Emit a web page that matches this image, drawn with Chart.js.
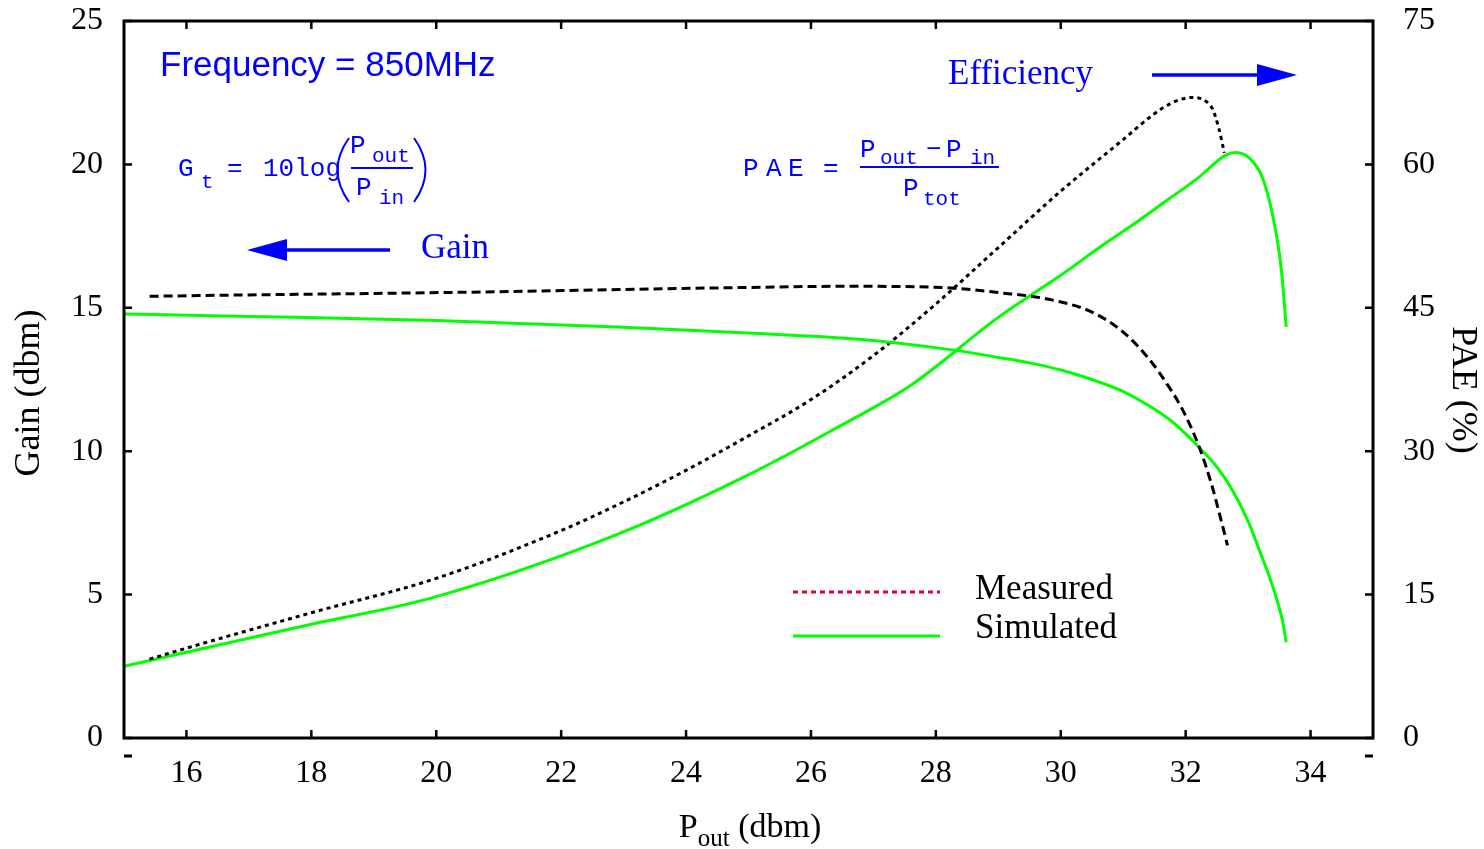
<!DOCTYPE html>
<html>
<head>
<meta charset="utf-8">
<script src="https://cdn.jsdelivr.net/npm/chart.js@4.4.1/dist/chart.umd.min.js"></script>
<style>
html,body{margin:0;padding:0;background:#fff;}
#wrap{width:1484px;height:849px;}
</style>
</head>
<body>
<div id="wrap"><canvas id="c" width="1484" height="849"></canvas></div>
<script>
// ---- data ----
const measGainX = [15.41, 17, 19, 21, 23, 25, 26.5, 27.5, 28.3, 29, 29.8, 30.5, 31.0, 31.4, 31.7, 31.95, 32.22, 32.41, 32.54, 32.67];
const measGainY = [15.40, 15.45, 15.50, 15.56, 15.64, 15.71, 15.75, 15.74, 15.68, 15.53, 15.30, 14.85, 14.15, 13.25, 12.35, 11.45, 10.13, 8.88, 7.83, 6.72];

const simGainX = [15.0, 17, 20, 22.9, 25, 26.9, 28.2, 29.0, 29.5, 30.0, 30.5, 31.0, 31.4, 31.8, 32.2, 32.5, 32.75, 33.0, 33.18, 33.32, 33.45, 33.55, 33.61];
const simGainY = [14.78, 14.70, 14.56, 14.33, 14.12, 13.88, 13.55, 13.27, 13.08, 12.83, 12.50, 12.08, 11.60, 11.00, 10.17, 9.45, 8.64, 7.55, 6.55, 5.75, 4.90, 4.10, 3.34];

const measPaeX = [15.41, 16, 18, 20, 22, 23, 24, 25, 26, 27, 28, 29, 30, 31, 31.5, 31.8, 32.1, 32.3, 32.43, 32.53, 32.62];
const measPaeY = [8.25, 9.4, 13.1, 16.7, 21.7, 24.7, 28.0, 31.6, 35.4, 40.0, 45.4, 51.3, 57.2, 62.6, 65.3, 66.5, 67.0, 66.7, 65.8, 63.8, 61.2];

const simPaeX = [15.0, 18, 19.9, 22.9, 24.9, 26.4, 27.6, 29.0, 30.0, 30.62, 31.2, 31.69, 32.22, 32.5, 32.65, 32.8, 33.03, 33.23, 33.39, 33.5, 33.55, 33.61];
const simPaeY = [7.5, 11.9, 14.6, 21.3, 27.2, 32.4, 36.9, 44.0, 48.4, 51.3, 53.9, 56.2, 58.7, 60.3, 61.0, 61.25, 60.6, 58.6, 54.8, 50.7, 47.8, 43.0];

const xTicks = [16, 18, 20, 22, 24, 26, 28, 30, 32, 34];
const gainTicks = [0, 5, 10, 15, 20, 25];
const paeTicks = [0, 15, 30, 45, 60, 75];

const legendLabels = ['Measured', 'Simulated'];

function pts(xs, ys){ return xs.map((x,i)=>({x:x, y:ys[i]})); }

const SERIF = '"Liberation Serif", "Times New Roman", serif';
const SANS = '"Liberation Sans", Arial, sans-serif';
const MONO = '"Liberation Mono", "Courier New", monospace';
const BLUE = '#0000ff';

function noPad(s){ s.paddingTop = 0; s.paddingBottom = 0; s.paddingLeft = 0; s.paddingRight = 0; }

const decor = {
  id: 'decor',
  afterDraw(chart){
    const ctx = chart.ctx;
    const a = chart.chartArea;
    const sx = chart.scales.x, yl = chart.scales.y, yr = chart.scales.y2;
    ctx.save();
    // frame
    ctx.strokeStyle = '#000'; ctx.lineWidth = 3;
    ctx.strokeRect(a.left, a.top, a.right - a.left, a.bottom - a.top);
    ctx.lineWidth = 2.5;
    // inward tick marks
    ctx.beginPath();
    sx.ticks.forEach(t => {
      const p = sx.getPixelForValue(t.value);
      ctx.moveTo(p, a.bottom); ctx.lineTo(p, a.bottom - 8);
      ctx.moveTo(p, a.top); ctx.lineTo(p, a.top + 8);
    });
    yl.ticks.forEach(t => {
      const p = yl.getPixelForValue(t.value);
      ctx.moveTo(a.left, p); ctx.lineTo(a.left + 8, p);
    });
    yr.ticks.forEach(t => {
      const p = yr.getPixelForValue(t.value);
      ctx.moveTo(a.right, p); ctx.lineTo(a.right - 8, p);
    });
    ctx.stroke();
    // small dashes below frame corners
    ctx.lineWidth = 3;
    ctx.beginPath();
    ctx.moveTo(a.left, a.bottom + 18); ctx.lineTo(a.left + 8, a.bottom + 18);
    ctx.moveTo(a.right - 8, a.bottom + 18); ctx.lineTo(a.right, a.bottom + 18);
    ctx.stroke();

    // axis titles
    ctx.fillStyle = '#000';
    ctx.textBaseline = 'middle';
    ctx.textAlign = 'center';
    ctx.font = '36px ' + SERIF;
    ctx.save(); ctx.translate(30, 393); ctx.rotate(-Math.PI/2); ctx.fillText('Gain (dbm)', 0, 0); ctx.restore();
    ctx.save(); ctx.translate(1462, 390); ctx.rotate(Math.PI/2); ctx.fillText('PAE (%)', 0, 0); ctx.restore();
    // x title with subscript
    ctx.textAlign = 'left'; ctx.textBaseline = 'alphabetic';
    ctx.font = '34px ' + SERIF; const wP = ctx.measureText('P').width;
    ctx.font = '25px ' + SERIF; const wOut = ctx.measureText('out').width;
    ctx.font = '34px ' + SERIF; const wD = ctx.measureText(' (dbm)').width;
    let x0 = 750 - (wP + wOut + wD)/2;
    ctx.font = '34px ' + SERIF; ctx.fillText('P', x0, 837);
    ctx.font = '25px ' + SERIF; ctx.fillText('out', x0 + wP, 846);
    ctx.font = '34px ' + SERIF; ctx.fillText(' (dbm)', x0 + wP + wOut, 837);

    // annotations
    ctx.fillStyle = BLUE; ctx.strokeStyle = BLUE;
    ctx.textBaseline = 'middle';
    ctx.font = '35px ' + SANS; ctx.fillText('Frequency = 850MHz', 160, 66);
    ctx.font = '35px ' + SERIF; ctx.fillText('Efficiency', 948, 75);
    ctx.fillText('Gain', 421, 249);
    // arrows
    ctx.lineWidth = 3.5;
    ctx.beginPath(); ctx.moveTo(1152, 75); ctx.lineTo(1262, 75); ctx.stroke();
    ctx.beginPath(); ctx.moveTo(1297, 75); ctx.lineTo(1257, 64); ctx.lineTo(1257, 86); ctx.closePath(); ctx.fill();
    ctx.beginPath(); ctx.moveTo(390, 250); ctx.lineTo(280, 250); ctx.stroke();
    ctx.beginPath(); ctx.moveTo(247, 250); ctx.lineTo(287, 239); ctx.lineTo(287, 261); ctx.closePath(); ctx.fill();

    // formula Gt
    ctx.textBaseline = 'alphabetic';
    ctx.font = '26px ' + MONO;
    ctx.fillText('G', 178, 176);
    ctx.font = '21px ' + MONO; ctx.fillText('t', 201, 188);
    ctx.font = '26px ' + MONO; ctx.fillText('=', 227, 176);
    ctx.fillText('10log', 263, 176);
    ctx.fillText('P', 350, 153);
    ctx.font = '21px ' + MONO; ctx.fillText('out', 372, 162);
    ctx.font = '26px ' + MONO; ctx.fillText('P', 356, 195);
    ctx.font = '21px ' + MONO; ctx.fillText('in', 379, 204);
    ctx.lineWidth = 2;
    ctx.beginPath(); ctx.moveTo(351, 168); ctx.lineTo(413, 168); ctx.stroke();
    // big parentheses
    ctx.beginPath(); ctx.moveTo(349, 138); ctx.quadraticCurveTo(326, 170, 349, 202); ctx.stroke();
    ctx.beginPath(); ctx.moveTo(414, 138); ctx.quadraticCurveTo(437, 170, 414, 202); ctx.stroke();

    // formula PAE
    ctx.font = '26px ' + MONO;
    ctx.fillText('P', 743, 176); ctx.fillText('A', 766, 176); ctx.fillText('E', 788, 176);
    ctx.fillText('=', 823, 176);
    ctx.fillText('P', 860, 157);
    ctx.font = '21px ' + MONO; ctx.fillText('out', 880, 164);
    ctx.font = '26px ' + MONO; ctx.fillText('\u2212', 926, 157);
    ctx.fillText('P', 946, 157);
    ctx.font = '21px ' + MONO; ctx.fillText('in', 970, 164);
    ctx.font = '26px ' + MONO; ctx.fillText('P', 903, 196);
    ctx.font = '21px ' + MONO; ctx.fillText('tot', 923, 205);
    ctx.beginPath(); ctx.moveTo(860, 167); ctx.lineTo(999, 167); ctx.stroke();

    // legend
    ctx.lineWidth = 3;
    ctx.strokeStyle = '#e0002a'; ctx.setLineDash([5, 4]);
    ctx.beginPath(); ctx.moveTo(793, 592); ctx.lineTo(940, 592); ctx.stroke();
    ctx.setLineDash([]);
    ctx.strokeStyle = '#00ff00';
    ctx.beginPath(); ctx.moveTo(793, 636); ctx.lineTo(940, 636); ctx.stroke();
    ctx.fillStyle = '#000'; ctx.font = '35px ' + SERIF; ctx.textBaseline = 'middle';
    ctx.fillText(legendLabels[0], 975, 590);
    ctx.fillText(legendLabels[1], 975, 629);
    ctx.restore();
  }
};

new Chart(document.getElementById('c'), {
  type: 'line',
  data: {
    datasets: [
      { label: 'Measured gain', data: pts(measGainX, measGainY), yAxisID: 'y', borderColor: '#000', borderWidth: 3, borderDash: [9, 5], pointRadius: 0, fill: false, cubicInterpolationMode: 'monotone' },
      { label: 'Simulated gain', data: pts(simGainX, simGainY), yAxisID: 'y', borderColor: '#00ff00', borderWidth: 3, pointRadius: 0, fill: false, cubicInterpolationMode: 'monotone' },
      { label: 'Measured PAE', data: pts(measPaeX, measPaeY), yAxisID: 'y2', borderColor: '#000', borderWidth: 3, borderDash: [4, 4], pointRadius: 0, fill: false, cubicInterpolationMode: 'monotone' },
      { label: 'Simulated PAE', data: pts(simPaeX, simPaeY), yAxisID: 'y2', borderColor: '#00ff00', borderWidth: 3, pointRadius: 0, fill: false, cubicInterpolationMode: 'monotone' }
    ]
  },
  options: {
    responsive: false,
    animation: false,
    devicePixelRatio: 1,
    layout: { padding: { top: 21, left: 0, right: 0, bottom: 0 } },
    plugins: { legend: { display: false }, tooltip: { enabled: false } },
    scales: {
      x: {
        type: 'linear', min: 15, max: 35,
        afterBuildTicks: s => { s.ticks = xTicks.map(v => ({value: v})); },
        afterFit: s => { s.height = 111; noPad(s); },
        grid: { display: false, drawTicks: false },
        border: { display: false },
        ticks: { color: '#000', font: { family: SERIF, size: 32 }, padding: 16, maxRotation: 0, autoSkip: false }
      },
      y: {
        type: 'linear', position: 'left', min: 0, max: 25,
        afterBuildTicks: s => { s.ticks = gainTicks.map(v => ({value: v})); },
        afterFit: s => { s.width = 124; noPad(s); },
        grid: { display: false, drawTicks: false },
        border: { display: false },
        ticks: { color: '#000', font: { family: SERIF, size: 32 }, padding: 21 }
      },
      y2: {
        type: 'linear', position: 'right', min: 0, max: 75,
        afterBuildTicks: s => { s.ticks = paeTicks.map(v => ({value: v})); },
        afterFit: s => { s.width = 111; noPad(s); },
        grid: { display: false, drawTicks: false },
        border: { display: false },
        ticks: { color: '#000', font: { family: SERIF, size: 32 }, padding: 30 }
      }
    }
  },
  plugins: [decor]
});
</script>
</body>
</html>
